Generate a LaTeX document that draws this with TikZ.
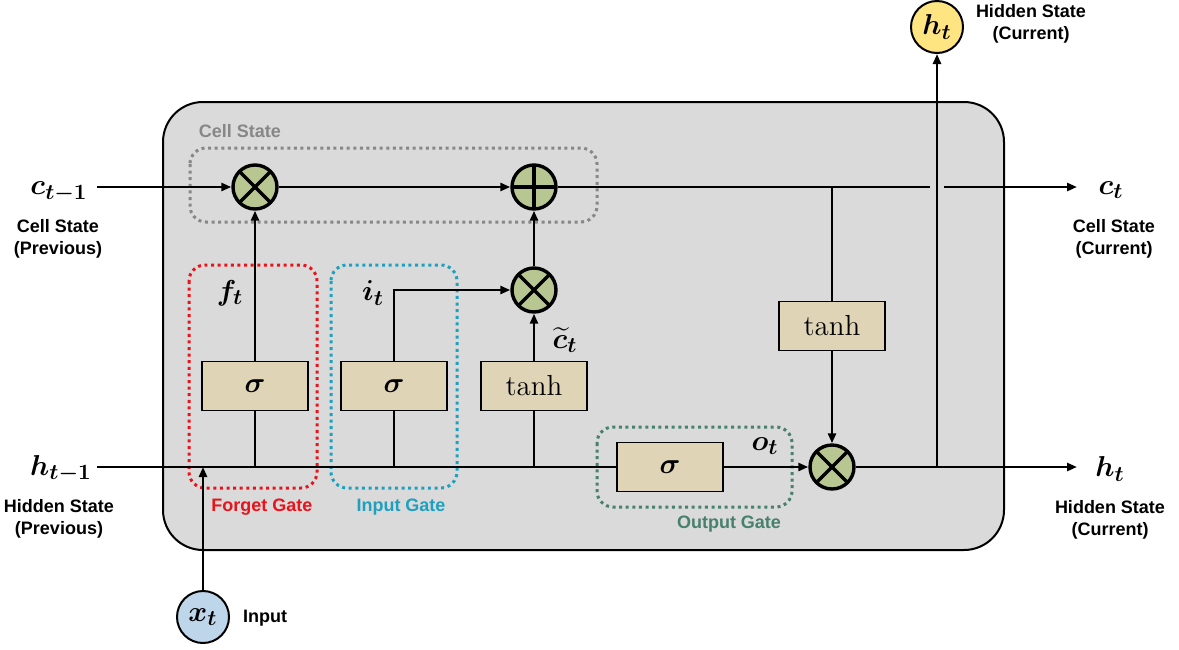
\documentclass[tikz,border=0pt]{standalone}
\usepackage{amsmath}
\usepackage{bm}
\usepackage{fontspec}
\setsansfont{Liberation Sans}
\usepackage{tikz}
\usetikzlibrary{arrows.meta, calc, backgrounds}

\definecolor{cellgray}{RGB}{218,218,218}
\definecolor{gatetan}{RGB}{223,212,182}
\definecolor{opgreen}{RGB}{184,198,145}
\definecolor{forgetred}{RGB}{232,20,28}
\definecolor{inputcyan}{RGB}{30,160,190}
\definecolor{outputgreen}{RGB}{72,128,110}
\definecolor{statgray}{RGB}{135,135,135}
\definecolor{htyellow}{RGB}{255,228,130}
\definecolor{xtblue}{RGB}{190,214,234}

\tikzset{
  flow/.style={line width=1.25pt, -{Triangle[length=5pt,width=4pt]}},
  wire/.style={line width=1.25pt},
  actbox/.style={draw, line width=0.8pt, fill=gatetan, minimum width=53pt, minimum height=24.5pt, inner sep=0pt, font=\fontsize{14.5}{16}\selectfont},
  mulop/.style={circle, draw, line width=1.7pt, fill=opgreen, minimum size=22pt, inner sep=0pt,
    path picture={\draw[line width=1.7pt] (path picture bounding box.north west) -- (path picture bounding box.south east)
      (path picture bounding box.south west) -- (path picture bounding box.north east);}},
  addop/.style={circle, draw, line width=1.7pt, fill=opgreen, minimum size=22pt, inner sep=0pt,
    path picture={\draw[line width=1.7pt] (path picture bounding box.north) -- (path picture bounding box.south)
      (path picture bounding box.west) -- (path picture bounding box.east);}},
  gatebox/.style={rounded corners=8pt, dash pattern=on 1.5pt off 1.8pt, line width=1.5pt},
  lbl/.style={font=\sffamily\bfseries\fontsize{9}{11}\selectfont, align=center},
  mlbl/.style={font=\fontsize{15}{18}\selectfont},
  iocirc/.style={circle, draw, line width=1pt, minimum size=26pt, inner sep=0pt, font=\fontsize{15}{18}\selectfont},
}

\begin{document}
\begin{tikzpicture}[x=0.5pt, y=-0.5pt]
\useasboundingbox (0,0) rectangle (1179,649);
\pgfmathsetmacro{\cellY}{187}
\pgfmathsetmacro{\hidY}{467}

% Draw cell body
\draw[fill=cellgray, line width=1pt, rounded corners=20pt] (163,102) rectangle (1004,550);

% Draw dotted gate regions
\draw[gatebox, statgray] (190,148) rectangle (597,222);
\draw[gatebox, forgetred] (189,265) rectangle (317,488);
\draw[gatebox, inputcyan] (331,265) rectangle (457,488);
\draw[gatebox, outputgreen] (597,427) rectangle (792,507);

% Pointwise operations
\node[mulop] (mulf) at (255,\cellY) {};
\node[addop] (addc) at (534,\cellY) {};
\node[mulop] (muli) at (534,290) {};
\node[mulop] (mulo) at (832,\hidY) {};

% Activation layers
\node[actbox] (sigf) at (255,386) {$\bm{\sigma}$};
\node[actbox] (sigi) at (394,386) {$\bm{\sigma}$};
\node[actbox] (tanc) at (534,386) {$\mathrm{tanh}$};
\node[actbox] (sigo) at (670,\hidY) {$\bm{\sigma}$};
\node[actbox] (tanh2) at (832,326) {$\mathrm{tanh}$};

% Inputs and outputs
\node[iocirc, fill=htyellow] (htop) at (937,27) {$\bm{h_t}$};
\node[iocirc, fill=xtblue] (xt) at (203,617) {$\bm{x_t}$};
\coordinate (cin) at (97,\cellY);
\coordinate (cout) at (1077,\cellY);
\coordinate (hin) at (97,\hidY);
\coordinate (hout) at (1077,\hidY);
\coordinate (xin) at (203,\hidY);
\coordinate (hsplit) at (937,\hidY);
\coordinate (csplit) at (832,\cellY);
\coordinate (gapL) at (930,\cellY);
\coordinate (gapR) at (944,\cellY);

% Cell state line
\draw[flow] (cin) -- (mulf);
\draw[flow] (mulf) -- (addc);
\draw[wire] (addc) -- (gapL);
\draw[flow] (gapR) -- (cout);
\draw[wire] (csplit) -- (tanh2);
\draw[flow] (tanh2) -- (mulo);

% Hidden state line
\draw[wire] (hin) -- (sigo);
\draw[flow] (sigo) -- (mulo);
\draw[flow] (mulo) -- (hout);
\draw[flow] (hsplit) -- (htop);
\draw[flow] (xt) -- (xin);

% Gates
\draw[wire] (sigf |- hin) -- (sigf);
\draw[flow] (sigf) -- (mulf);
\draw[wire] (sigi |- hin) -- (sigi);
\draw[flow] (sigi.north) |- (muli);
\draw[wire] (tanc |- hin) -- (tanc);
\draw[flow] (tanc) -- (muli);
\draw[flow] (muli) -- (addc);

% Math labels
\node[mlbl] (flbl) at (230,293) {$\bm{f_t}$};
\node[mlbl] (ilbl) at (373,293) {$\bm{i_t}$};
\node[mlbl, inner sep=1pt] (clbl) at (565,340) {$\widetilde{\bm{c}}_{\bm{t}}$};
\node[mlbl] (olbl) at (765,446) {$\bm{o_t}$};
\node[mlbl] (cinlbl) at (59,192) {$\bm{c_{t-1}}$};
\node[mlbl] (hinlbl) at (61,469) {$\bm{h_{t-1}}$};
\node[mlbl] (coutlbl) at (1111,190) {$\bm{c_t}$};
\node[mlbl] (houtlbl) at (1110,469) {$\bm{h_t}$};

% Text labels
\node[lbl, statgray] (cslbl) at (240,131) {Cell State};
\node[lbl, forgetred] (fgname) at (262,507) {Forget Gate};
\node[lbl, inputcyan] (igname) at (401,507) {Input Gate};
\node[lbl, outputgreen] (ogname) at (729,524) {Output Gate};
\node[lbl] (cprev) at (58,239) {Cell State\\(Previous)};
\node[lbl] (hprev) at (59,519) {Hidden State\\(Previous)};
\node[lbl] (ccur) at (1114,239) {Cell State\\(Current)};
\node[lbl] (hcur) at (1110,520) {Hidden State\\(Current)};
\node[lbl] (htcur) at (1031,24) {Hidden State\\(Current)};
\node[lbl] (xtname) at (265,618) {Input};
\end{tikzpicture}
\end{document}
